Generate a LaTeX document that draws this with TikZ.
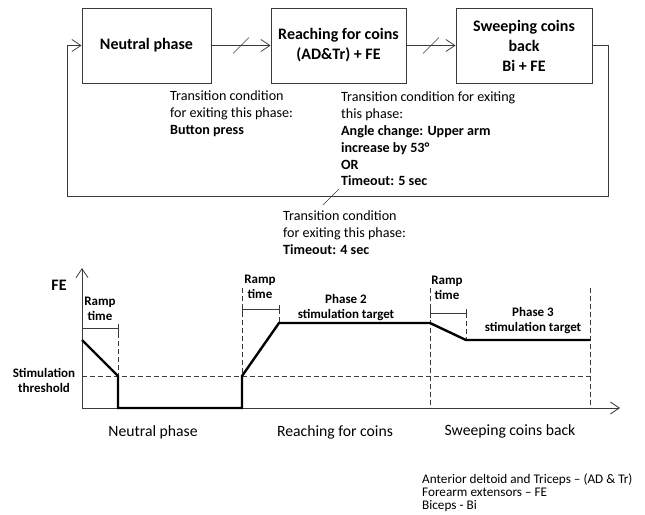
\documentclass[tikz,border=0pt]{standalone}
\usepackage{fontspec}
\setmainfont{Carlito}
\usetikzlibrary{arrows.meta,calc}
\definecolor{ln}{HTML}{3A3A3A}
\tikzset{
  phasebox/.style={draw=ln, line width=0.8pt, align=center, inner sep=0pt,
    minimum height=75pt, font=\bfseries\fontsize{16}{20}\selectfont},
  arr/.style={draw=ln, line width=0.8pt, -{Straight Barb[length=9pt,width=12pt]}},
  slash/.style={draw=ln, line width=0.6pt},
  cond/.style={anchor=north west, inner sep=0pt, align=left, font=\fontsize{14.1}{16.8}\selectfont},
  thin/.style={draw=ln, line width=0.8pt},
  dsh/.style={draw=ln, line width=0.8pt, dash pattern=on 5pt off 3pt},
  thick/.style={draw=black, line width=2.4pt},
  small/.style={align=center, inner sep=0pt, font=\bfseries\fontsize{13}{15}\selectfont},
  phname/.style={inner sep=0pt, font=\fontsize{15.7}{18}\selectfont},
  legend/.style={anchor=north west, inner sep=0pt, align=left, font=\fontsize{13.2}{13}\selectfont}
}
\begin{document}
\begin{tikzpicture}[x=1pt,y=-1pt]
\useasboundingbox (0,0) rectangle (645,514);
% top state boxes
\node[phasebox, minimum width=129pt] (n1) at (146.5,45.5) {Neutral phase};
\node[phasebox, minimum width=135pt] (n2) at (338.5,45.5) {Reaching for coins\\(AD\&Tr) + FE};
\node[phasebox, minimum width=136pt] (n3) at (524,45.5) {Sweeping coins\\back\\Bi + FE};
\draw[arr] (n1.east) -- (n2.west);
\draw[arr] (n2.east) -- (n3.west);
\coordinate (s1) at ($(n1.east)!0.5!(n2.west)$);
\coordinate (s2) at ($(n2.east)!0.5!(n3.west)$);
\draw[slash] (s1) +(-8,8) -- +(8,-8);
\draw[slash] (s2) +(-8,8) -- +(8,-8);
\coordinate (fr) at (608,196);
\coordinate (fl) at (67,196);
\coordinate (s3) at (331,196);
\draw[arr] (n3.east) -| (fr) -- (fl) |- (n1.west);
\draw[slash] (s3) +(-8,9) -- +(8,-7);
% transition conditions
\node[cond] (c1) at (170,91) {Transition condition\\for exiting this phase:\\\textbf{Button press}};
\node[cond] (c2) at (341,92) {Transition condition for exiting\\this phase:\\\textbf{Angle change: Upper arm}\\\textbf{increase by 53°}\\\textbf{OR}\\\textbf{Timeout: 5 sec}};
\node[cond] (c3) at (283,211) {Transition condition\\for exiting this phase:\\\textbf{Timeout: 4 sec}};
% chart axes
\draw[arr] (82,408) -- (82,268);
\draw[arr] (82,408) -- (620,408);
% threshold
\draw[dsh] (82,376) -- (590,376);
% vertical dashed markers
\draw[dsh] (118,325) -- (118,376);
\draw[dsh] (242,288) -- (242,376);
\draw[dsh] (279,309) -- (279,323);
\draw[dsh] (430,288) -- (430,408);
\draw[dsh] (466,313) -- (466,340);
\draw[dsh] (590,288) -- (590,408);
% ramp brackets
\draw[thin] (82,324) -- (82,333) (82,328) -- (118,328) (118,324) -- (118,333);
\draw[thin] (242,305) -- (242,314) (242,309) -- (279,309) (279,305) -- (279,314);
\draw[thin] (430,309) -- (430,318) (430,313) -- (466,313) (466,309) -- (466,318);
% stimulation curve
\draw[thick, line join=miter] (82,340) -- (118,376) -- (118,408) -- (242,408) -- (242,376) -- (279,323) -- (430,323) -- (466,340) -- (590,340);
% chart labels
\node[inner sep=0pt, font=\bfseries\fontsize{16}{20}\selectfont] (fe) at (59,285) {FE};
\node[small] (r1) at (100,309) {Ramp\\time};
\node[small] (r2) at (260,287) {Ramp\\time};
\node[small] (r3) at (447,288) {Ramp\\time};
\node[small] (p2) at (346,308) {Phase 2\\stimulation target};
\node[small] (p3) at (533,321) {Phase 3\\stimulation target};
\node[small] (th) at (44,380) {Stimulation\\threshold};
\node[phname] (q1) at (153,432) {Neutral phase};
\node[phname] (q2) at (335,432) {Reaching for coins};
\node[phname] (q3) at (510,431) {Sweeping coins back};
\node[legend] (lg) at (422,474) {Anterior deltoid and Triceps – (AD \& Tr)\\Forearm extensors – FE\\Biceps - Bi};
\end{tikzpicture}
\end{document}
